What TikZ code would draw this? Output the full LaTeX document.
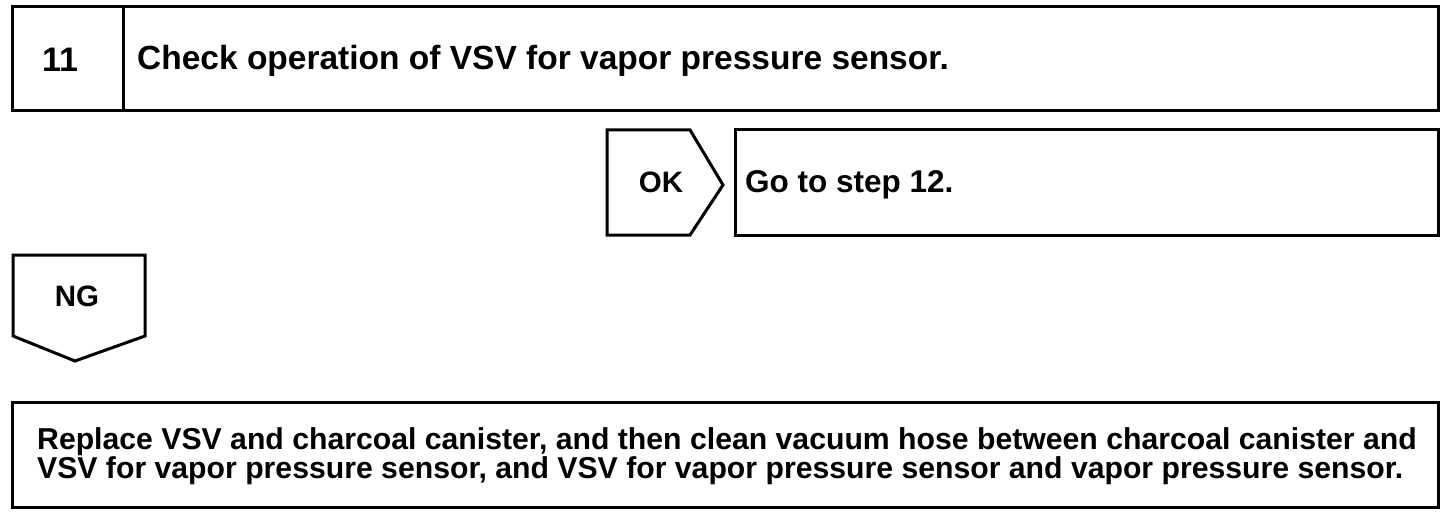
\documentclass[tikz,border=0pt]{standalone}
\usepackage{fontspec}
\setmainfont{Liberation Sans}
\begin{document}
\begin{tikzpicture}[x=1pt,y=-1pt,
  frame/.style={draw=black,line width=3pt,line join=miter},
  lbl/.style={font=\bfseries\fontsize{29.5}{29.5}\selectfont,inner sep=0pt,anchor=base},
  lbll/.style={lbl,anchor=base west}]
\useasboundingbox[fill=white] (0,0) rectangle (1456,516);
% top step box
\draw[frame] (12,7) rectangle (1438,111);
\draw[frame] (123,7) -- (123,111);
\node[lbl,font=\bfseries\fontsize{34}{34}\selectfont] (num) at (60,72) {11};
\node[lbll,font=\bfseries\fontsize{33.5}{33.5}\selectfont] (title) at (137,70) {Check operation of VSV for vapor pressure sensor.};
% OK arrow
\draw[frame] (607,130) -- (690,130) -- (723,185) -- (690,235) -- (607,235) -- cycle;
\node[lbl] (ok) at (661,192) {OK};
\draw[frame] (735,130) rectangle (1438,235);
\node[lbll,font=\bfseries\fontsize{31.5}{31.5}\selectfont] (goto) at (745,192) {Go to step 12.};
% NG arrow
\draw[frame] (13,255) -- (145,255) -- (145,336) -- (75,361) -- (13,336) -- cycle;
\node[lbl] (ng) at (77,306) {NG};
% bottom box
\draw[frame] (12,402) rectangle (1438,507);
\node[lbll,align=left,anchor=north west,font=\bfseries\fontsize{30.2}{28}\selectfont] (act) at (37,427) {Replace VSV and charcoal canister, and then clean vacuum hose between charcoal canister and\\VSV for vapor pressure sensor, and VSV for vapor pressure sensor and vapor pressure sensor.};
\end{tikzpicture}
\end{document}
